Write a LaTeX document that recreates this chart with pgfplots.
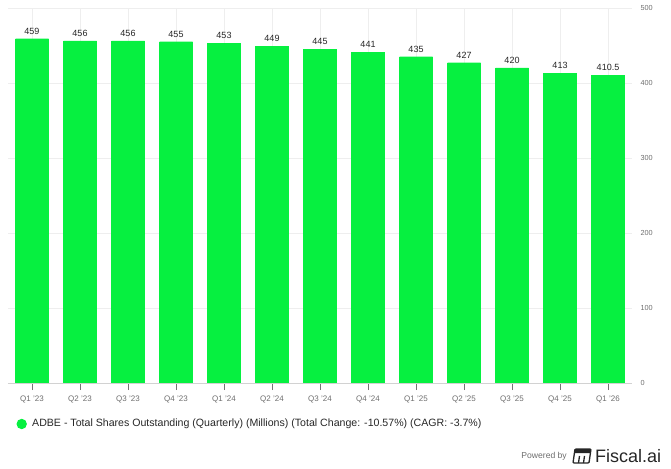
\documentclass[border=0pt]{standalone}
\usepackage{fontspec}
\setmainfont{Liberation Sans}
\usepackage{pgfplots}
\pgfplotsset{compat=1.18}
\usepackage{pgfplotstable}
\definecolor{barg}{RGB}{6,240,64}
\definecolor{ticktxt}{RGB}{110,110,110}
\definecolor{gridc}{RGB}{238,238,238}

\pgfplotstableread{
x shares
0 459
1 456
2 456
3 455
4 453
5 449
6 445
7 441
8 435
9 427
10 420
11 413
12 410.5
}\shares

\begin{document}
\begin{tikzpicture}[x=1pt,y=1pt]
\useasboundingbox (0,0) rectangle (671,468);
\begin{axis}[
    at={(8pt,85pt)}, anchor=south west,
    scale only axis, width=624pt, height=375pt,
    xmin=-0.5, xmax=12.5, ymin=0, ymax=500,
    axis x line*=bottom, axis y line*=right,
    x axis line style={draw=gray!35},
    y axis line style={draw=none},
    ytick={0,100,...,500},
    ytick style={draw=none},
    xtick=data,
    xticklabels={Q1 '23,Q2 '23,Q3 '23,Q4 '23,Q1 '24,Q2 '24,Q3 '24,Q4 '24,Q1 '25,Q2 '25,Q3 '25,Q4 '25,Q1 '26},
    xtick style={draw=gray!90!black, line width=0.8pt},
    tick align=outside, major tick length=7pt,
    tick label style={font=\fontsize{7.3}{8}\selectfont, text=ticktxt},
    xticklabel style={font=\fontsize{8}{9}\selectfont, yshift=-2pt},
    /pgf/number format/assume math mode=true,
    yticklabel style={anchor=west, xshift=-2pt},
    xmajorgrids, ymajorgrids,
    grid style={draw=gridc, line width=0.5pt},
    ybar, bar width=33pt,
    nodes near coords,
    nodes near coords style={font=\fontsize{9}{10}\selectfont, text=black!85, /pgf/number format/fixed, anchor=south, yshift=1pt},
]
\addplot[draw=barg, fill=barg] table[x=x, y=shares] {\shares};
\end{axis}
\fill[barg] (21.7,44) circle (5.2);
\node[anchor=west, inner sep=0, font=\fontsize{10.6}{12}\selectfont, text=black!85] at (32,44)
  {ADBE - Total Shares Outstanding (Quarterly) (Millions) (Total Change: -10.57\%) (CAGR: -3.7\%)};
\node[anchor=east, inner sep=0, font=\fontsize{8.6}{9}\selectfont, text=ticktxt] at (567,12) {Powered by};
\begin{scope}[line width=1.3pt, draw=black!85]
\draw[rounded corners=1pt] (573,5) -- (575,19) -- (591,19) -- (589,5) -- cycle;
\fill[black!85] (574.5,15) -- (575,19) -- (591,19) -- (590.5,15) -- cycle;
\draw (578.5,5) -- (579.5,12);
\draw (583.5,5) -- (584.5,12);
\end{scope}
\node[anchor=west, inner sep=0, font=\fontsize{18}{20}\selectfont, text=black!85] at (595,11.5) {Fiscal.ai};
\end{tikzpicture}
\end{document}
